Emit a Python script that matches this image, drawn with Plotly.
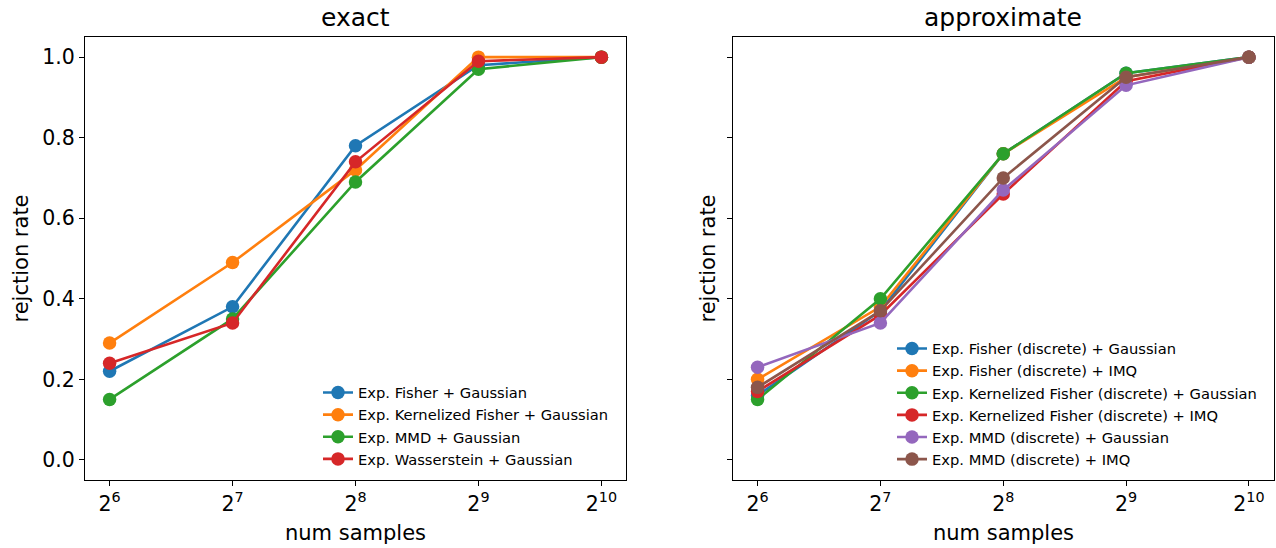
import plotly.graph_objects as go
import math

num_samples = [64, 128, 256, 512, 1024]
tick_text = ["2<sup>6</sup>", "2<sup>7</sup>", "2<sup>8</sup>", "2<sup>9</sup>", "2<sup>10</sup>"]

exact_names = ["Exp. Fisher + Gaussian", "Exp. Kernelized Fisher + Gaussian",
               "Exp. MMD + Gaussian", "Exp. Wasserstein + Gaussian"]
exact_fisher = [0.22, 0.38, 0.78, 0.98, 1.0]
exact_kfisher = [0.29, 0.49, 0.72, 1.0, 1.0]
exact_mmd = [0.15, 0.35, 0.69, 0.97, 1.0]
exact_wass = [0.24, 0.34, 0.74, 0.99, 1.0]

approx_names = ["Exp. Fisher (discrete) + Gaussian", "Exp. Fisher (discrete) + IMQ",
                "Exp. Kernelized Fisher (discrete) + Gaussian", "Exp. Kernelized Fisher (discrete) + IMQ",
                "Exp. MMD (discrete) + Gaussian", "Exp. MMD (discrete) + IMQ"]
approx_fisher_gauss = [0.16, 0.37, 0.76, 0.96, 1.0]
approx_fisher_imq = [0.20, 0.38, 0.76, 0.95, 1.0]
approx_kfisher_gauss = [0.15, 0.40, 0.76, 0.96, 1.0]
approx_kfisher_imq = [0.17, 0.36, 0.66, 0.94, 1.0]
approx_mmd_gauss = [0.23, 0.34, 0.67, 0.93, 1.0]
approx_mmd_imq = [0.18, 0.37, 0.70, 0.95, 1.0]

colors = ["#1f77b4", "#ff7f0e", "#2ca02c", "#d62728", "#9467bd", "#8c564b"]

W, H = 1276, 548
FONT = "DejaVu Sans"

fig = go.Figure()

exact_series = [exact_fisher, exact_kfisher, exact_mmd, exact_wass]
for i, (name, ys) in enumerate(zip(exact_names, exact_series)):
    fig.add_trace(go.Scatter(x=num_samples, y=ys, name=name, mode="lines+markers",
                             line=dict(color=colors[i], width=2.6),
                             marker=dict(color=colors[i], size=13.5),
                             xaxis="x", yaxis="y", legend="legend"))

approx_series = [approx_fisher_gauss, approx_fisher_imq, approx_kfisher_gauss,
                 approx_kfisher_imq, approx_mmd_gauss, approx_mmd_imq]
for i, (name, ys) in enumerate(zip(approx_names, approx_series)):
    fig.add_trace(go.Scatter(x=num_samples, y=ys, name=name, mode="lines+markers",
                             line=dict(color=colors[i], width=2.6),
                             marker=dict(color=colors[i], size=13.5),
                             xaxis="x2", yaxis="y2", legend="legend2"))

def px_x(p):
    return p / W

def px_y(p):
    return 1 - p / H

xrange_log = [5.8 * math.log10(2), 10.2 * math.log10(2)]
yrange = [-0.05, 1.05]

TICK = 20.5
common_x = dict(type="log", range=xrange_log, tickvals=num_samples, ticktext=tick_text,
                ticks="outside", ticklen=5, tickwidth=1.2, tickcolor="black",
                showline=True, linecolor="black", linewidth=1.2, mirror=True,
                showgrid=False, zeroline=False,
                tickfont=dict(family=FONT, size=TICK, color="black"))
common_y = dict(range=yrange, tickvals=[0, 0.2, 0.4, 0.6, 0.8, 1.0],
                ticks="outside", ticklen=5, tickwidth=1.2, tickcolor="black",
                showline=True, linecolor="black", linewidth=1.2, mirror=True,
                showgrid=False, zeroline=False,
                tickfont=dict(family=FONT, size=TICK, color="black"))

LEG = 14.7
fig.update_layout(
    width=W, height=H,
    margin=dict(l=0, r=0, t=0, b=0),
    plot_bgcolor="white", paper_bgcolor="white",
    font=dict(family=FONT, color="black"),
    xaxis=dict(domain=[px_x(85), px_x(626)], anchor="y", **common_x),
    yaxis=dict(domain=[px_y(480), px_y(37)], anchor="x", tickformat=".1f", **common_y),
    xaxis2=dict(domain=[px_x(733), px_x(1273.5)], anchor="y2", **common_x),
    yaxis2=dict(domain=[px_y(480), px_y(37)], anchor="x2", showticklabels=False, **common_y),
    legend=dict(x=px_x(318), y=px_y(376.5), xanchor="left", yanchor="top",
                bgcolor="rgba(0,0,0,0)", font=dict(family=FONT, size=LEG, color="black"),
                tracegroupgap=0),
    legend2=dict(x=px_x(892), y=px_y(332.5), xanchor="left", yanchor="top",
                 bgcolor="rgba(0,0,0,0)", font=dict(family=FONT, size=LEG, color="black"),
                 tracegroupgap=0),
)

ann = [
    dict(text="exact", x=px_x(355.5), y=px_y(17), size=25),
    dict(text="approximate", x=px_x(1003), y=px_y(17), size=25),
    dict(text="num samples", x=px_x(355.5), y=px_y(533), size=21),
    dict(text="num samples", x=px_x(1003), y=px_y(533), size=21),
]
for a in ann:
    fig.add_annotation(text=a["text"], x=a["x"], y=a["y"], xref="paper", yref="paper",
                       xanchor="center", yanchor="middle", showarrow=False,
                       font=dict(family=FONT, size=a["size"], color="black"))
for xc in [20, 707]:
    fig.add_annotation(text="rejction rate", x=px_x(xc), y=px_y(258.5), xref="paper", yref="paper",
                       xanchor="center", yanchor="middle", showarrow=False, textangle=-90,
                       font=dict(family=FONT, size=21, color="black"))

fig.write_html("out.html", config={"displayModeBar": False},
               post_script="document.body.style.margin='0';document.body.style.overflow='hidden';")
